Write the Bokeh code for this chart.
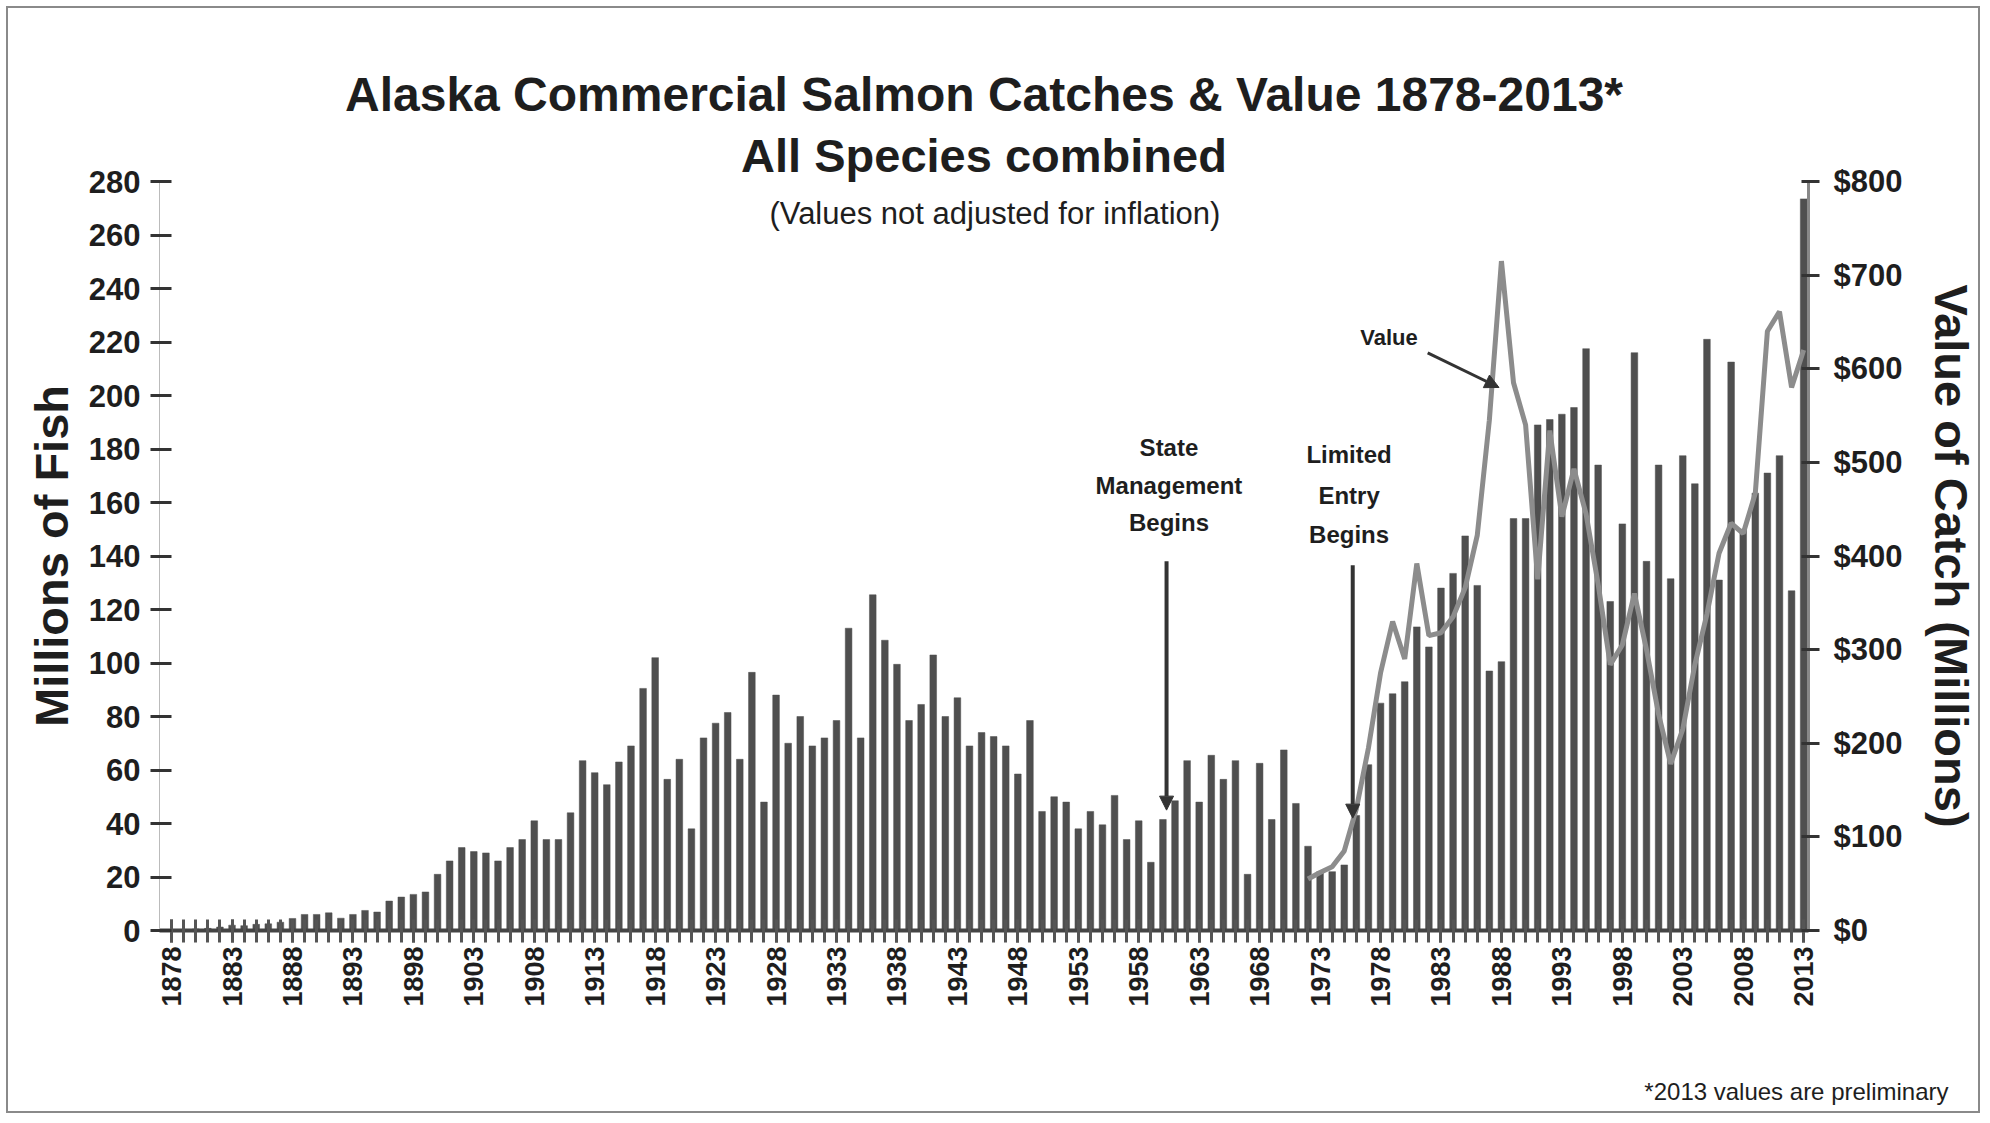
from math import pi
from bokeh.plotting import figure
from bokeh.models import (Range1d, LinearAxis, FixedTicker, Label, Arrow, NormalHead, Title)
from bokeh.embed import file_html
from bokeh.resources import INLINE

# ---------------- data ----------------
years = list(range(1878, 2014))
catch_millions = [
    0.2, 0.4, 0.6, 0.8, 1.3, 2.0, 1.8, 2.3, 2.5, 3.1,          # 1878-1887
    4.5, 6.0, 6.0, 6.6, 4.6, 6.0, 7.5, 6.9, 11.0, 12.5,        # 1888-1897
    13.5, 14.4, 21.0, 26.0, 31.0, 29.5, 29.0, 26.0, 31.0, 34.0,  # 1898-1907
    41.0, 34.0, 34.0, 44.0, 63.5, 59.0, 54.5, 63.0, 69.0, 90.5,  # 1908-1917
    102.0, 56.5, 64.0, 38.0, 72.0, 77.5, 81.5, 64.0, 96.5, 48.0,  # 1918-1927
    88.0, 70.0, 80.0, 69.0, 72.0, 78.5, 113.0, 72.0, 125.5, 108.5,  # 1928-1937
    99.5, 78.5, 84.5, 103.0, 80.0, 87.0, 69.0, 74.0, 72.5, 69.0,  # 1938-1947
    58.5, 78.5, 44.5, 50.0, 48.0, 38.0, 44.5, 39.5, 50.5, 34.0,  # 1948-1957
    41.0, 25.5, 41.5, 48.5, 63.5, 48.0, 65.5, 56.5, 63.5, 21.0,  # 1958-1967
    62.5, 41.5, 67.5, 47.5, 31.5, 22.0, 22.0, 24.5, 43.0, 62.0,  # 1968-1977
    85.0, 88.5, 93.0, 113.5, 106.0, 128.0, 133.5, 147.5, 129.0, 97.0,  # 1978-1987
    100.5, 154.0, 154.0, 189.0, 191.0, 193.0, 195.5, 217.5, 174.0, 123.0,  # 1988-1997
    152.0, 216.0, 138.0, 174.0, 131.5, 177.5, 167.0, 221.0, 131.0, 212.5,  # 1998-2007
    150.0, 163.5, 171.0, 177.5, 127.0, 273.5,                   # 2008-2013
]

value_years = list(range(1972, 2014))
value_millions_usd = [
    55, 62, 68, 85, 130, 195, 275, 330, 290, 392,     # 1972-1981
    315, 318, 335, 366, 422, 545, 715, 585, 540, 375,  # 1982-1991
    534, 442, 493, 445, 370, 284, 305, 360, 300, 231,  # 1992-2001
    178, 215, 284, 338, 403, 435, 424, 467, 640, 661,  # 2002-2011
    580, 620,                                          # 2012-2013
]

fish_ticks = [0, 20, 40, 60, 80, 100, 120, 140, 160, 180, 200, 220, 240, 260, 280]
value_ticks = [0, 100, 200, 300, 400, 500, 600, 700, 800]
value_tick_labels = ["$0", "$100", "$200", "$300", "$400", "$500", "$600", "$700", "$800"]
year_label_ticks = [1878, 1883, 1888, 1893, 1898, 1903, 1908, 1913, 1918, 1923, 1928,
                    1933, 1938, 1943, 1948, 1953, 1958, 1963, 1968, 1973, 1978, 1983,
                    1988, 1993, 1998, 2003, 2008, 2013]

FONT = "Liberation Sans"
DARK = "#333333"
TXT = "#1e1e1e"

# ---------------- figure ----------------
p = figure(width=1974, height=1107, output_backend="svg", toolbar_location=None,
           x_range=Range1d(1877.0, 2013.4), y_range=Range1d(0, 280),
           min_border_left=151, min_border_right=174,
           min_border_top=173, min_border_bottom=185,
           background_fill_color="white", border_fill_color="white")
p.title = None
p.outline_line_color = None
p.grid.visible = False
p.styles = {"border": "2px solid #8a8a8a", "margin": "6px"}

p.extra_y_ranges = {"val": Range1d(0, 800)}

# bars
p.vbar(x=years, top=catch_millions, width=0.55, fill_color="#4f4f4f",
       line_color="#4f4f4f", line_width=0.5)

# value line
p.line(value_years, value_millions_usd, y_range_name="val",
       line_color="#8c8c8c", line_width=5)

# ---------------- axes ----------------
xa = p.xaxis[0]
xa.ticker = FixedTicker(ticks=year_label_ticks, minor_ticks=years)
xa.major_label_orientation = pi / 2
xa.major_label_text_font = FONT
xa.major_label_text_font_style = "bold"
xa.major_label_text_font_size = "27px"
xa.major_label_text_color = TXT
xa.axis_line_color = "#444444"
xa.axis_line_width = 4
xa.major_tick_line_color = "#555555"
xa.major_tick_line_width = 3
xa.major_tick_in = 11
xa.major_tick_out = 12
xa.minor_tick_line_color = "#555555"
xa.minor_tick_line_width = 3
xa.minor_tick_in = 11
xa.minor_tick_out = 12
xa.major_label_standoff = 4
# blank axis label used only as a spacer so the footnote sits low
xa.axis_label = " "
xa.axis_label_text_font_size = "10px"
xa.axis_label_standoff = 51

ya = p.yaxis[0]
ya.ticker = FixedTicker(ticks=fish_ticks)
ya.major_label_text_font = FONT
ya.major_label_text_font_style = "bold"
ya.major_label_text_font_size = "31px"
ya.major_label_text_color = TXT
ya.axis_line_color = "#bbbbbb"
ya.axis_line_width = 1
ya.major_tick_line_color = DARK
ya.major_tick_line_width = 3
ya.major_tick_in = 12
ya.major_tick_out = 9
ya.minor_tick_line_color = None
ya.major_label_standoff = 10
ya.axis_label = "Millions of Fish"
ya.axis_label_text_font = FONT
ya.axis_label_text_font_style = "bold"
ya.axis_label_text_font_size = "47px"
ya.axis_label_text_color = TXT
ya.axis_label_standoff = 8

ra = LinearAxis(y_range_name="val", ticker=FixedTicker(ticks=value_ticks))
ra.major_label_overrides = {t: s for t, s in zip(value_ticks, value_tick_labels)}
ra.major_label_text_font = FONT
ra.major_label_text_font_style = "bold"
ra.major_label_text_font_size = "31px"
ra.major_label_text_color = TXT
ra.axis_line_color = "#888888"
ra.axis_line_width = 3
ra.major_tick_line_color = DARK
ra.major_tick_line_width = 3
ra.major_tick_in = 7
ra.major_tick_out = 11
ra.minor_tick_line_color = None
ra.major_label_standoff = 14
ra.axis_label = "Value of Catch (Millions)"
ra.axis_label_text_font = FONT
ra.axis_label_text_font_style = "bold"
ra.axis_label_text_font_size = "47px"
ra.axis_label_text_color = TXT
ra.axis_label_standoff = 20
p.add_layout(ra, "right")

# ---------------- titles (outside the frame) ----------------
p.add_layout(Title(text="All Species combined", text_font=FONT, text_font_style="bold",
                   text_font_size="47px", text_color=TXT, align="center",
                   standoff=0), "above")
p.add_layout(Title(text="Alaska Commercial Salmon Catches & Value 1878-2013*", text_font=FONT,
                   text_font_style="bold", text_font_size="48px", text_color=TXT,
                   align="center", standoff=12), "above")
p.add_layout(Title(text="*2013 values are preliminary", text_font=FONT,
                   text_font_style="normal", text_font_size="24px", text_color=TXT,
                   align="right", standoff=2, offset=-140), "below")

# ---------------- texts inside the frame ----------------
def lab(x, y, text, size, bold=True, y_range_name="default"):
    p.add_layout(Label(x=x, y=y, text=text, text_font=FONT,
                       text_font_style="bold" if bold else "normal",
                       text_font_size=size, text_align="center", text_baseline="middle",
                       text_color=TXT, y_range_name=y_range_name))

lab(1946.1, 268.0, "(Values not adjusted for inflation)", "31px", bold=False)

lab(1960.5, 180.6, "State", "24px")
lab(1960.5, 166.4, "Management", "24px")
lab(1960.5, 152.5, "Begins", "24px")

lab(1975.4, 178.0, "Limited", "24px")
lab(1975.4, 162.6, "Entry", "24px")
lab(1975.4, 148.0, "Begins", "24px")

lab(1978.7, 633.0, "Value", "22px", y_range_name="val")

# arrows
p.add_layout(Arrow(end=NormalHead(size=14, fill_color=DARK, line_color=DARK),
                   x_start=1960.3, y_start=138.0, x_end=1960.3, y_end=45.0,
                   line_color=DARK, line_width=4))
p.add_layout(Arrow(end=NormalHead(size=14, fill_color=DARK, line_color=DARK),
                   x_start=1975.7, y_start=136.5, x_end=1975.7, y_end=42.0,
                   line_color=DARK, line_width=4))
p.add_layout(Arrow(end=NormalHead(size=14, fill_color=DARK, line_color=DARK),
                   x_start=1981.9, y_start=617.0, x_end=1987.8, y_end=580.0,
                   line_color=DARK, line_width=3, y_range_name="val"))

open("out.html", "w").write(file_html(p, INLINE))
